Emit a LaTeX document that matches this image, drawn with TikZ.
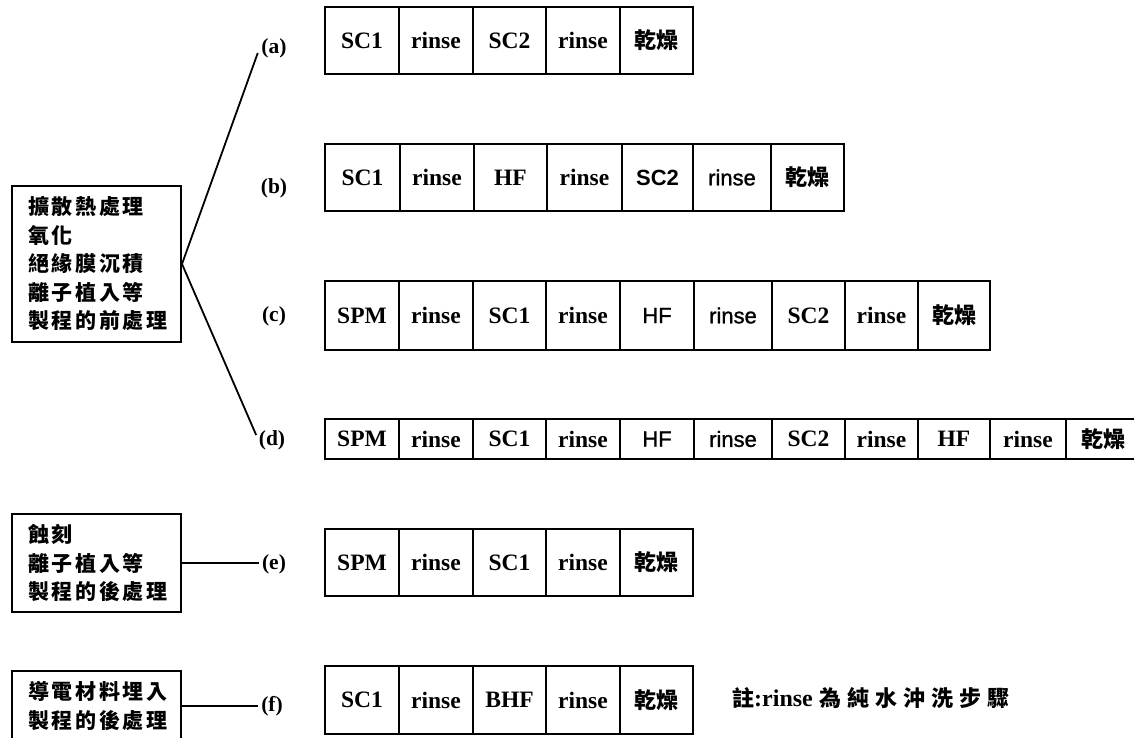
\documentclass[tikz,border=0pt]{standalone}
\usepackage{fontspec}
\setmainfont{Liberation Serif}
\newfontfamily\sansf{Liberation Sans}
\newfontfamily\sansm{Liberation Sans}[FakeBold=1.2]
\newfontfamily\cjk{Noto Sans CJK TC}
\usetikzlibrary{calc}
\begin{document}
\begin{tikzpicture}[x=1pt,y=-1pt,
  cell/.style={draw, line width=1.1pt, inner sep=0pt, font=\fontsize{23.5}{23.5}\selectfont\bfseries},
  lbox/.style={draw, line width=2pt, inner xsep=16pt, inner ysep=0pt, text width=137pt, align=left, minimum width=169pt,
    font=\cjk\bfseries\fontsize{21}{28.5}\selectfont\addfontfeature{LetterSpace=13}},
  lab/.style={inner sep=0pt, font=\fontsize{21.5}{21.5}\selectfont\bfseries},
  conn/.style={line width=1.8pt}]
\useasboundingbox (0,0) rectangle (1134,738);
\clip (0,0) rectangle (1134,738);
\fill[white] (0,0) rectangle (1134,738);

% rows of cells
\foreach \l/\r/\t/\n in {325/399/SC1/a1, 399/473/rinse/a2, 473/546/SC2/a3, 546/620/rinse/a4, 620/693/{\cjk\fontsize{22}{22}\selectfont 乾燥}/a5}{
  \pgfmathsetmacro\w{\r-\l}\pgfmathsetmacro\c{(\l+\r)/2}
  \node[cell, minimum width=\w pt, minimum height=67pt] (\n) at (\c,40.5) {\t};}
\foreach \l/\r/\t/\n in {325/400/SC1/b1, 400/474/rinse/b2, 474/547/HF/b3, 547/622/rinse/b4, 622/693/{\sansf\fontsize{22}{22}\selectfont SC2}/b5, 693/771/{\sansm\mdseries\fontsize{22}{22}\selectfont rinse}/b6, 771/844/{\cjk\fontsize{22}{22}\selectfont 乾燥}/b7}{
  \pgfmathsetmacro\w{\r-\l}\pgfmathsetmacro\c{(\l+\r)/2}
  \node[cell, minimum width=\w pt, minimum height=67pt] (\n) at (\c,177.5) {\t};}
\foreach \l/\r/\t/\n in {325/399/SPM/c1, 399/473/rinse/c2, 473/546/SC1/c3, 546/620/rinse/c4, 620/694/{\sansm\mdseries\fontsize{22}{22}\selectfont HF}/c5, 694/772/{\sansm\mdseries\fontsize{22}{22}\selectfont rinse}/c6, 772/845/SC2/c7, 845/918/rinse/c8, 918/990/{\cjk\fontsize{22}{22}\selectfont 乾燥}/c9}{
  \pgfmathsetmacro\w{\r-\l}\pgfmathsetmacro\c{(\l+\r)/2}
  \node[cell, minimum width=\w pt, minimum height=69pt] (\n) at (\c,315.5) {\t};}
\foreach \l/\r/\t/\n in {325/399/SPM/d1, 399/473/rinse/d2, 473/546/SC1/d3, 546/620/rinse/d4, 620/694/{\sansm\mdseries\fontsize{22}{22}\selectfont HF}/d5, 694/772/{\sansm\mdseries\fontsize{22}{22}\selectfont rinse}/d6, 772/845/SC2/d7, 845/918/rinse/d8, 918/990/HF/d9, 990/1066/rinse/d10, 1066/1140/{\cjk\fontsize{22}{22}\selectfont 乾燥}/d11}{
  \pgfmathsetmacro\w{\r-\l}\pgfmathsetmacro\c{(\l+\r)/2}
  \node[cell, minimum width=\w pt, minimum height=40pt] (\n) at (\c,439) {\t};}
\foreach \l/\r/\t/\n in {325/399/SPM/e1, 399/473/rinse/e2, 473/546/SC1/e3, 546/620/rinse/e4, 620/693/{\cjk\fontsize{22}{22}\selectfont 乾燥}/e5}{
  \pgfmathsetmacro\w{\r-\l}\pgfmathsetmacro\c{(\l+\r)/2}
  \node[cell, minimum width=\w pt, minimum height=67pt] (\n) at (\c,562.5) {\t};}
\foreach \l/\r/\t/\n in {325/399/SC1/f1, 399/473/rinse/f2, 473/546/BHF/f3, 546/620/rinse/f4, 620/693/{\cjk\fontsize{22}{22}\selectfont 乾燥}/f5}{
  \pgfmathsetmacro\w{\r-\l}\pgfmathsetmacro\c{(\l+\r)/2}
  \node[cell, minimum width=\w pt, minimum height=68pt] (\n) at (\c,700) {\t};}

% left boxes
\node[lbox, minimum height=156pt] (L1) at (96.5,264) {擴散熱處理\\氧化\\絕緣膜沉積\\離子植入等\\製程的前處理};
\node[lbox, minimum height=98pt] (L2) at (96.5,563) {蝕刻\\離子植入等\\製程的後處理};
\node[lbox, minimum height=70pt] (L3) at (96.5,706) {導電材料埋入\\製程的後處理};

% labels
\node[lab] (la) at (274,48) {(a)};
\node[lab] (lb) at (274,188) {(b)};
\node[lab] (lc) at (274,316) {(c)};
\node[lab] (ld) at (272,440) {(d)};
\node[lab] (le) at (274,564) {(e)};
\node[lab] (lf) at (272,706) {(f)};

% connectors
\draw[conn] (L1.east) -- ($(la.west)+(-3.5,5)$);
\draw[conn] (L1.east) -- ($(ld.west)+(-2.5,-5)$);
\draw[conn] (L2.east) -- ([xshift=-3pt]L2.east -| le.west);
\draw[conn] (L3.east) -- ([xshift=-3pt]L3.east -| lf.west);

% note
\node[anchor=west, inner sep=0pt, font=\fontsize{24}{24}\selectfont\bfseries] (note) at (732,698)
  {{\cjk\fontsize{22}{22}\selectfont 註}:rinse\hspace{7pt}{\cjk\fontsize{22}{22}\selectfont\addfontfeature{LetterSpace=27}為純水沖洗步驟}};
\end{tikzpicture}
\end{document}
